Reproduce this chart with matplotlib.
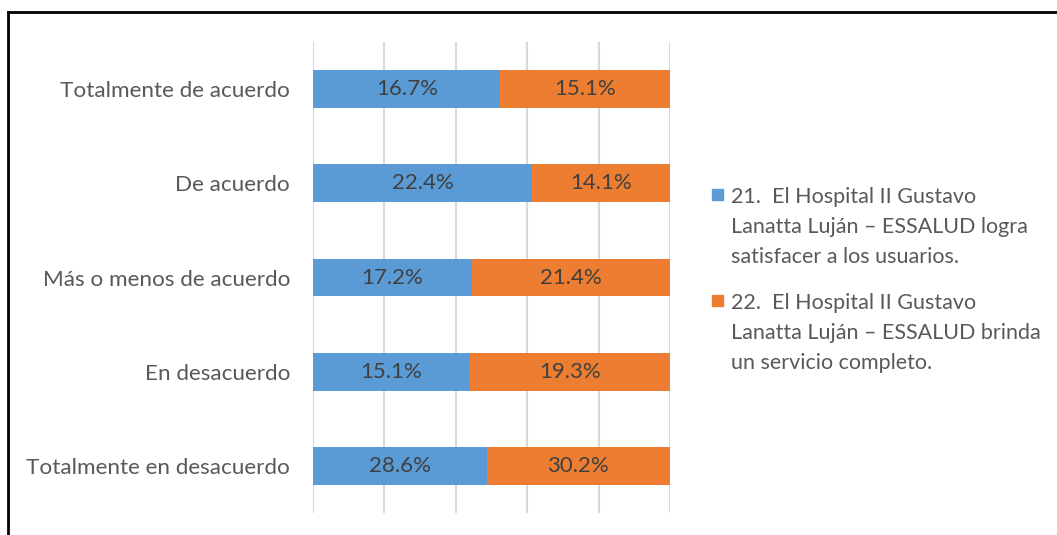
import matplotlib
matplotlib.use("Agg")
import matplotlib.pyplot as plt
from matplotlib.lines import Line2D
from matplotlib.patches import Rectangle
import numpy as np

plt.rcParams['font.family'] = ['Lato', 'DejaVu Sans']

categories = ["Totalmente de acuerdo", "De acuerdo", "Más o menos de acuerdo",
              "En desacuerdo", "Totalmente en desacuerdo"]
series_21 = [16.7, 22.4, 17.2, 15.1, 28.6]
series_22 = [15.1, 14.1, 21.4, 19.3, 30.2]
series_names = [
    "21.  El Hospital II Gustavo\nLanatta Luján – ESSALUD logra\nsatisfacer a los usuarios.",
    "22.  El Hospital II Gustavo\nLanatta Luján – ESSALUD brinda\nun servicio completo.",
]
colors = ["#5B9BD5", "#ED7D31"]

W, H = 1057, 535
fig = plt.figure(figsize=(W / 100, H / 100), dpi=100)
ax = fig.add_axes([313 / W, (H - 513) / H, (670 - 313) / W, (513 - 42) / H])

a = np.array(series_21)
b = np.array(series_22)
tot = a + b
share_a = a / tot
share_b = b / tot
y = np.arange(len(categories))
bh = 0.40

ax.barh(y, share_a, height=bh, color=colors[0], zorder=3)
ax.barh(y, share_b, left=share_a, height=bh, color=colors[1], zorder=3)

for i in range(len(categories)):
    ax.text(share_a[i] / 2, y[i], f"{a[i]:.1f}%", ha="center", va="center",
            fontsize=16, color="#404040", zorder=4)
    ax.text(share_a[i] + share_b[i] / 2, y[i], f"{b[i]:.1f}%", ha="center",
            va="center", fontsize=16, color="#404040", zorder=4)

ax.set_xlim(0, 1)
ax.set_ylim(len(categories) - 0.5, -0.5)
ax.set_xticks(np.linspace(0, 1, 6))
ax.set_xticklabels([])
ax.tick_params(axis="x", length=0)
ax.grid(axis="x", color="#D9D9D9", linewidth=1.5, zorder=0)
ax.set_yticks(y)
ax.set_yticklabels(categories, fontsize=16.2, color="#595959")
ax.tick_params(axis="y", length=0, pad=16.5)
for s in ax.spines.values():
    s.set_visible(False)

# legend drawn by hand: swatch plus wrapped label
leg_first_line = [195, 301]
for name, col, yl in zip(series_names, colors, leg_first_line):
    fig.patches.append(Rectangle((712 / W, 1 - (yl + 5) / H), 11 / W, 11 / H,
                                 transform=fig.transFigure, color=col))
    fig.text(731 / W, 1 - (yl + 32) / H, name, ha="left", va="center",
             fontsize=15.5, color="#595959", linespacing=1.63)

# outer frame
fig.add_artist(Line2D([8 / W, 1.0], [1 - 12 / H, 1 - 12 / H],
                      transform=fig.transFigure, color="black", linewidth=2))
fig.add_artist(Line2D([8 / W, 8 / W], [0, 1 - 12 / H],
                      transform=fig.transFigure, color="black", linewidth=2))

fig.savefig("out.png", dpi=100)
